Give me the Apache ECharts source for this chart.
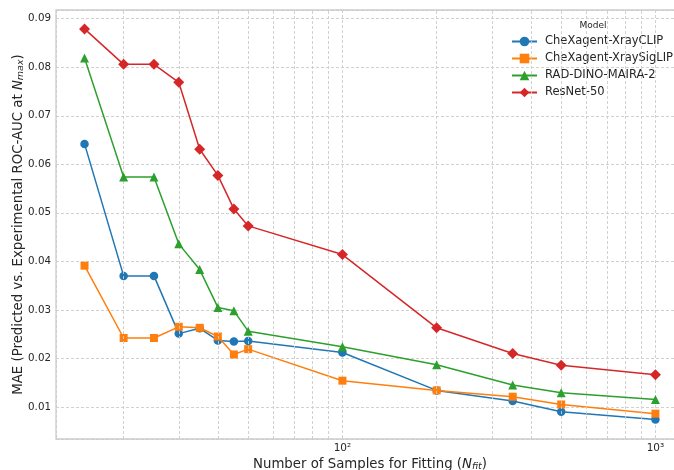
<!DOCTYPE html>
<html>
<head>
<meta charset="utf-8">
<script src="https://cdn.jsdelivr.net/npm/echarts@6/dist/echarts.min.js"></script>
<style>
  html, body { margin: 0; padding: 0; background: #fff; }
  #chart { width: 674px; height: 470px; }
</style>
</head>
<body>
<div id="chart"></div>
<script>
// Number of samples used for fitting (log-scaled x axis)
const nFit = [15, 20, 25, 30, 35, 40, 45, 50, 100, 200, 350, 500, 1000];

// MAE between predicted and experimental ROC-AUC at N_max, per model
const xrayClip   = [0.0642, 0.0370, 0.0370, 0.0251, 0.0262, 0.0237, 0.0235, 0.0236, 0.0212, 0.0134, 0.0112, 0.0090, 0.0074];
const xraySigLip = [0.0391, 0.0242, 0.0242, 0.0265, 0.0263, 0.0245, 0.0208, 0.0219, 0.0154, 0.0134, 0.0121, 0.0105, 0.0086];
const radDino    = [0.0819, 0.0574, 0.0574, 0.0436, 0.0383, 0.0305, 0.0298, 0.0256, 0.0224, 0.0187, 0.0145, 0.0129, 0.0115];
const resnet50   = [0.0879, 0.0806, 0.0806, 0.0769, 0.0631, 0.0577, 0.0508, 0.0473, 0.0414, 0.0263, 0.0210, 0.0186, 0.0166];

const modelNames = ['CheXagent-XrayCLIP', 'CheXagent-XraySigLIP', 'RAD-DINO-MAIRA-2', 'ResNet-50'];
const modelValues = [xrayClip, xraySigLip, radDino, resnet50];
const modelColors = ['#1f77b4', '#ff7f0e', '#2ca02c', '#d62728'];
const modelSymbols = ['circle', 'rect', 'triangle', 'diamond'];
const modelSymbolSizes = [8.5, 8, 9, 11];

// Minor log gridlines between decades
const minorGrid = [20, 30, 40, 50, 60, 70, 80, 90, 200, 300, 400, 500, 600, 700, 800, 900];

// Axis ranges (data span padded in the same proportions on each side)
const xRange = [12.16, 1234];
const yRange = [0.00338, 0.0918];

const textColor = '#262626';
const gridColor = '#cccccc';
const font = 'DejaVu Sans';
const nameSize = 13.3;

const chart = echarts.init(document.getElementById('chart'), null, { renderer: 'canvas' });

const supers = { 1: '¹', 2: '²', 3: '³' };

const series = modelNames.map((name, i) => ({
  name: name,
  type: 'line',
  data: nFit.map((n, j) => [n, modelValues[i][j]]),
  symbol: modelSymbols[i],
  symbolSize: modelSymbolSizes[i],
  showAllSymbol: true,
  color: modelColors[i],
  lineStyle: { width: 1.5, color: modelColors[i] },
  itemStyle: { color: modelColors[i], borderWidth: 0 },
  emphasis: { disabled: true },
  animation: false,
  z: 3 + i
}));

// Invisible carrier series for the minor vertical gridlines
series.unshift({
  name: 'minor-grid',
  type: 'line',
  data: [],
  silent: true,
  z: 1,
  markLine: {
    silent: true,
    symbol: ['none', 'none'],
    label: { show: false },
    animation: false,
    lineStyle: { color: gridColor, type: [3, 2], width: 0.9 },
    data: minorGrid.map(v => ({ xAxis: v }))
  }
});

const nameRich = {
  i: { fontFamily: font, fontSize: nameSize, fontStyle: 'italic', color: textColor },
  s: { fontFamily: font, fontSize: 9.5, fontStyle: 'italic', color: textColor, verticalAlign: 'bottom', padding: [5, 0, 0, 0] }
};

chart.setOption({
  animation: false,
  backgroundColor: '#ffffff',
  textStyle: { fontFamily: font },
  title: {
    text: 'Model',
    left: 593,
    top: 21.5,
    padding: 0,
    textAlign: 'center',
    textStyle: { fontFamily: font, fontSize: 9, fontWeight: 'normal', color: textColor }
  },
  legend: {
    data: modelNames,
    orient: 'vertical',
    left: 511,
    top: 35.5,
    padding: 0,
    itemWidth: 25,
    itemHeight: 12,
    itemGap: 5,
    selectedMode: false,
    textStyle: { fontFamily: font, fontSize: 11.5, color: textColor, padding: [0, 0, 0, 3] }
  },
  grid: {
    left: 56,
    top: 10,
    right: -10,
    bottom: 31,
    outerBoundsMode: 'none',
    containLabel: false,
    show: true,
    borderColor: gridColor,
    borderWidth: 1.3,
    backgroundColor: 'transparent'
  },
  xAxis: {
    type: 'log',
    logBase: 10,
    min: xRange[0],
    max: xRange[1],
    name: 'Number of Samples for Fitting ({i|N}{s|fit})',
    nameLocation: 'middle',
    nameGap: 18,
    nameMoveOverlap: false,
    nameTextStyle: { fontFamily: font, fontSize: nameSize, color: textColor, rich: nameRich },
    axisLine: { show: false },
    axisTick: { show: false },
    axisLabel: {
      showMinLabel: false,
      showMaxLabel: false,
      margin: 4,
      fontFamily: font,
      fontSize: 10.5,
      color: textColor,
      formatter: v => '10' + (supers[Math.round(Math.log10(v))] || '')
    },
    splitLine: { show: true, lineStyle: { color: gridColor, type: [3, 2], width: 0.9 } }
  },
  yAxis: {
    type: 'value',
    min: yRange[0],
    max: yRange[1],
    minInterval: 0.01,
    maxInterval: 0.01,
    splitNumber: 9,
    name: 'MAE (Predicted vs. Experimental ROC-AUC at {i|N}{s|max})',
    nameLocation: 'middle',
    nameGap: 30,
    nameMoveOverlap: false,
    nameTextStyle: { fontFamily: font, fontSize: nameSize, color: textColor, rich: nameRich },
    axisLine: { show: false },
    axisTick: { show: false },
    axisLabel: {
      showMinLabel: false,
      showMaxLabel: false,
      margin: 5,
      fontFamily: font,
      fontSize: 10.3,
      color: textColor,
      formatter: v => v.toFixed(2)
    },
    splitLine: { show: true, lineStyle: { color: gridColor, type: [3, 2], width: 0.9 } }
  },
  series: series
});
</script>
</body>
</html>
